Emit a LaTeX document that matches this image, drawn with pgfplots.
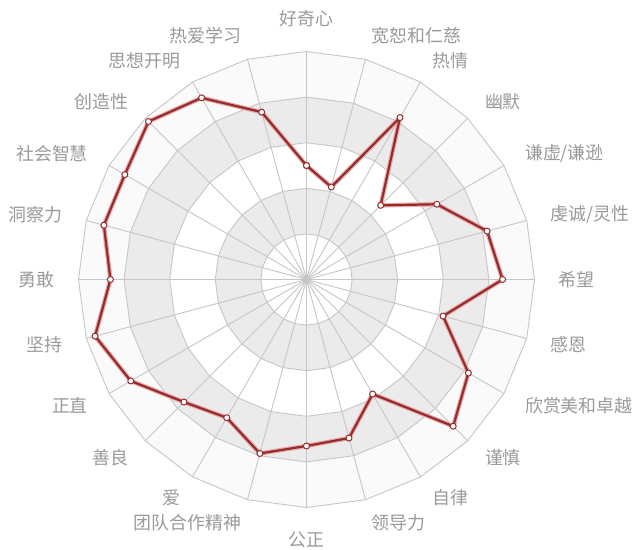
\documentclass[border=0pt]{standalone}
\usepackage{fontspec}
\newfontfamily\cjk{Noto Sans CJK SC}
\usepackage{pgfplots}
\pgfplotsset{compat=1.18}
\usepgfplotslibrary{polar}
\usepackage{pgfplotstable}

\definecolor{bandgray}{HTML}{EBEBEB}
\definecolor{bandwhite}{HTML}{FAFAFA}
\definecolor{gridc}{HTML}{C6C6C6}
\definecolor{linered}{HTML}{972A2B}
\definecolor{halo}{HTML}{E6ABAB}
\definecolor{labelc}{HTML}{9A9A9A}

% polygon rings of the web, one column per ring
\pgfplotstableread{
a r1 r2 r3 r4 r5
0 1 2 3 4 5
15 1 2 3 4 5
30 1 2 3 4 5
45 1 2 3 4 5
60 1 2 3 4 5
75 1 2 3 4 5
90 1 2 3 4 5
105 1 2 3 4 5
120 1 2 3 4 5
135 1 2 3 4 5
150 1 2 3 4 5
165 1 2 3 4 5
180 1 2 3 4 5
195 1 2 3 4 5
210 1 2 3 4 5
225 1 2 3 4 5
240 1 2 3 4 5
255 1 2 3 4 5
270 1 2 3 4 5
285 1 2 3 4 5
300 1 2 3 4 5
315 1 2 3 4 5
330 1 2 3 4 5
345 1 2 3 4 5
360 1 2 3 4 5
}\rings

% scores, clockwise from the top (angle in degrees, counter-clockwise from the right)
\pgfplotstableread{
a v
90 2.5
75 2.1
60 4.1
45 2.3
30 3.3
15 4.1
0 4.3
345 3.1
330 4.1
315 4.55
300 2.9
285 3.6
270 3.65
255 3.95
240 3.5
225 3.8
210 4.45
195 4.8
180 4.3
165 4.6
150 4.6
135 4.9
120 4.6
105 3.8
90 2.5
}\scores

\begin{document}
\begin{tikzpicture}[
    lab/.style={font=\cjk\fontsize{18}{20}\selectfont, text=labelc, inner sep=0pt},
  ]
\begin{polaraxis}[
    width=456bp, height=456bp, scale only axis,
    hide axis, clip=false,
    xmin=0, xmax=360, ymin=0, ymax=5,
  ]
\addplot[draw=none, fill=bandwhite] table[x=a, y=r5] {\rings};
\addplot[draw=none, fill=bandgray] table[x=a, y=r4] {\rings};
\addplot[draw=none, fill=white] table[x=a, y=r3] {\rings};
\addplot[draw=none, fill=bandgray] table[x=a, y=r2] {\rings};
\addplot[draw=none, fill=white] table[x=a, y=r1] {\rings};
\addplot[gridc, line width=0.9bp] table[x=a, y=r1] {\rings};
\addplot[gridc, line width=0.9bp] table[x=a, y=r2] {\rings};
\addplot[gridc, line width=0.9bp] table[x=a, y=r3] {\rings};
\addplot[gridc, line width=0.9bp] table[x=a, y=r4] {\rings};
\addplot[gridc, line width=0.9bp] table[x=a, y=r5] {\rings};
\pgfplotsinvokeforeach{0,15,...,345}{
  \addplot[gridc, line width=0.9bp] coordinates {(#1,0) (#1,5)};
}
\addplot[halo, line width=4.5bp, line join=round] table[x=a, y=v] {\scores};
\addplot[linered, line width=2.2bp, line join=round,
  mark=*, mark size=3bp,
  mark options={fill=white, draw=linered, line width=1bp}] table[x=a, y=v] {\scores};

\coordinate (c) at (axis cs:0,0);
\node[lab, anchor=south] at (axis cs:90,5.53) {好奇心};
\node[lab, anchor=west] at (axis cs:75,5.53) {宽恕和仁慈};
\node[lab, anchor=west] at (axis cs:60,5.53) {热情};
\node[lab, anchor=west] at (axis cs:45,5.53) {幽默};
\node[lab, anchor=west] at (axis cs:30,5.53) {谦虚/谦逊};
\node[lab, anchor=west] at (axis cs:15,5.53) {虔诚/灵性};
\node[lab, anchor=west] at (axis cs:0,5.53) {希望};
\node[lab, anchor=west] at (axis cs:345,5.53) {感恩};
\node[lab, anchor=west] at (axis cs:330,5.53) {欣赏美和卓越};
\node[lab, anchor=west] at (axis cs:315,5.53) {谨慎};
\node[lab, anchor=west] at (axis cs:300,5.53) {自律};
\node[lab, anchor=west] at (axis cs:285,5.53) {领导力};
\node[lab, anchor=north] at (axis cs:270,5.53) {公正};
\node[lab, anchor=east] at (axis cs:255,5.53) {团队合作精神};
\node[lab, anchor=east] at (axis cs:240,5.53) {爱};
\node[lab, anchor=east] at (axis cs:225,5.53) {善良};
\node[lab, anchor=east] at (axis cs:210,5.53) {正直};
\node[lab, anchor=east] at (axis cs:195,5.53) {坚持};
\node[lab, anchor=east] at (axis cs:180,5.53) {勇敢};
\node[lab, anchor=east] at (axis cs:165,5.53) {洞察力};
\node[lab, anchor=east] at (axis cs:150,5.53) {社会智慧};
\node[lab, anchor=east] at (axis cs:135,5.53) {创造性};
\node[lab, anchor=east] at (axis cs:120,5.53) {思想开明};
\node[lab, anchor=east] at (axis cs:105,5.53) {热爱学习};
\end{polaraxis}
\pgfresetboundingbox
\path[use as bounding box] ([shift={(-306.5bp,279.5bp)}]c) rectangle ([shift={(330.5bp,-270.5bp)}]c);
\end{tikzpicture}
\end{document}
